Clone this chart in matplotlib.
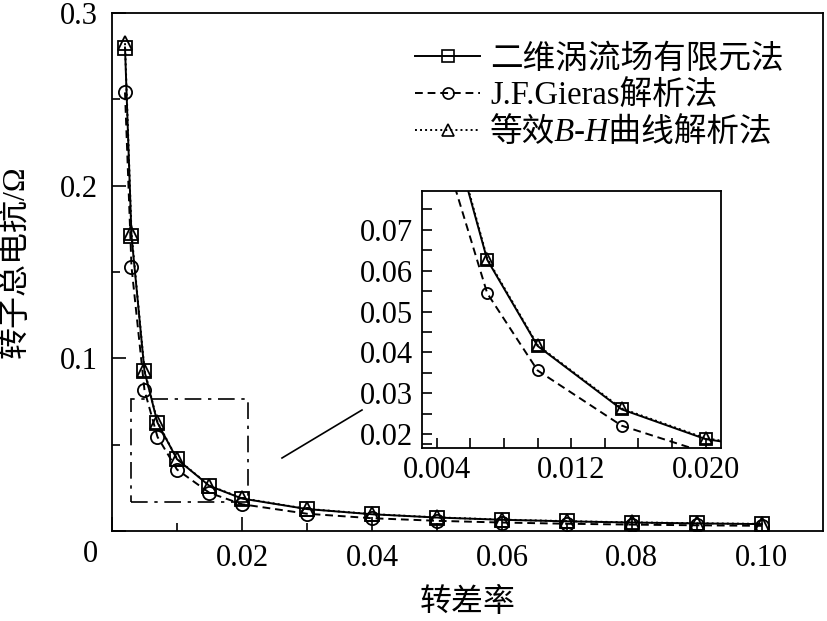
import matplotlib
matplotlib.use("Agg")
import matplotlib.pyplot as plt
from matplotlib.patches import Rectangle
from matplotlib.lines import Line2D

plt.rcParams['font.family'] = ['Liberation Serif', 'Noto Sans CJK SC', 'DejaVu Sans']

# ---- data ----
slip = [0.002, 0.003, 0.005, 0.007, 0.010, 0.015, 0.020, 0.030, 0.040,
        0.050, 0.060, 0.070, 0.080, 0.090, 0.100]
fem = [0.280, 0.171, 0.0925, 0.0627, 0.0416, 0.0261, 0.0188, 0.0127, 0.0097,
       0.0078, 0.0065, 0.0056, 0.0049, 0.0044, 0.0040]
gieras = [0.254, 0.153, 0.0815, 0.0545, 0.0356, 0.0221, 0.0155, 0.0100, 0.0074,
          0.0059, 0.0049, 0.0042, 0.0037, 0.0033, 0.0030]
bh = [0.2825, 0.1725, 0.0932, 0.0630, 0.0418, 0.0263, 0.0190, 0.0128, 0.0098,
      0.0079, 0.0066, 0.0057, 0.0050, 0.0045, 0.0041]

labels = ['二维涡流场有限元法', 'J.F.Gieras解析法', '等效B-H曲线解析法']
xlabel = '转差率'
ylabel = '转子总电抗/Ω'

main_xticks = [0.0, 0.02, 0.04, 0.06, 0.08, 0.10]
main_xticklabels = ['', '0.02', '0.04', '0.06', '0.08', '0.10']
main_yticks = [0.0, 0.1, 0.2, 0.3]
main_yticklabels = ['', '0.1', '0.2', '0.3']
inset_xticks = [0.004, 0.012, 0.020]
inset_xticklabels = ['0.004', '0.012', '0.020']
inset_yticks = [0.02, 0.03, 0.04, 0.05, 0.06, 0.07]
inset_yticklabels = ['0.02', '0.03', '0.04', '0.05', '0.06', '0.07']

inset_xlim = (0.0031, 0.0209)
inset_ylim = (0.0167, 0.0796)
zoom_box = (0.0030, 0.0168, 0.0209, 0.0763)

fig = plt.figure(figsize=(8.27, 6.21), dpi=100)
ax = fig.add_axes([112/827, 1-531/621, 711/827, 518/621])

lw = 1.4
ms = 9.5
styles = [
    dict(ls='-', marker='s'),
    dict(ls=(0, (4, 2.5)), marker='o'),
    dict(ls=(0, (1, 1.6)), marker='^'),
]
series = [fem, gieras, bh]

def draw(a, msize):
    for ys, st in zip(series, styles):
        a.plot(slip, ys, color='black', lw=lw, ls=st['ls'], marker=st['marker'],
               markersize=msize, markerfacecolor='none', markeredgecolor='black',
               markeredgewidth=1.3)

draw(ax, ms)
ax.set_xlim(0, 0.1094)
ax.set_ylim(0, 0.3)
ax.set_xticks(main_xticks)
ax.set_xticklabels(main_xticklabels)
ax.set_xticks([0.01, 0.03, 0.05, 0.07, 0.09], minor=True)
ax.set_yticks(main_yticks)
ax.set_yticklabels(main_yticklabels)
ax.set_yticks([0.05, 0.15, 0.25], minor=True)
ax.tick_params(which='both', direction='in', top=False, right=False, width=1.2,
               labelsize=22)
ax.tick_params(which='major', length=10)
ax.tick_params(which='minor', length=6)
ax.tick_params(axis='x', pad=9)
ax.tick_params(axis='y', pad=10)
for s in ax.spines.values():
    s.set_linewidth(1.3)
ax.set_xlabel(xlabel, fontsize=23, labelpad=11)
ax.set_ylabel(ylabel, fontsize=23, va='center')
ax.yaxis.set_label_coords(-0.136, 0.52)
fig.text(90/827, 1-555/621, '0', fontsize=22, ha='center', va='center')

# zoom box
ax.add_patch(Rectangle((zoom_box[0], zoom_box[1]), zoom_box[2]-zoom_box[0],
                       zoom_box[3]-zoom_box[1], fill=False, lw=1.2,
                       ls=(0, (10, 4, 2, 4)), ec='black', zorder=1))
fig.add_artist(Line2D([282/827, 362/827], [1-458/621, 1-410/621],
                      color='black', lw=1.2, transform=fig.transFigure))

# legend
handles = []
for st, lab in zip(styles, labels):
    handles.append(Line2D([], [], color='black', lw=lw, ls=st['ls'], marker=st['marker'],
                          markersize=8, markerfacecolor='none', markeredgecolor='black',
                          markeredgewidth=1.2))
leg = ax.legend(handles, labels, loc='upper left', bbox_to_anchor=(0.426, 0.94),
                frameon=False, fontsize=23.5, handlelength=2.0, handletextpad=0.3,
                labelspacing=0.18, borderpad=0, borderaxespad=0)
# italic B-H (CJK family has no italic, so only the Latin letters slant)
leg.get_texts()[2].set_fontstyle('italic')

# inset
axi = fig.add_axes([421.7/827, 1-447.7/621, 299/827, 257/621])
axi.set_facecolor('white')
draw(axi, 8)
axi.set_xlim(*inset_xlim)
axi.set_ylim(*inset_ylim)
axi.set_xticks(inset_xticks)
axi.set_xticklabels(inset_xticklabels)
axi.set_xticks([0.006, 0.008, 0.010, 0.014, 0.016, 0.018], minor=True)
axi.set_yticks(inset_yticks)
axi.set_yticklabels(inset_yticklabels)
axi.set_yticks([0.0175, 0.025, 0.035, 0.045, 0.055, 0.065, 0.075], minor=True)
axi.tick_params(which='both', direction='in', top=False, right=False, width=1.2,
                labelsize=22, length=7)
axi.tick_params(axis='x', pad=6)
axi.tick_params(axis='y', pad=6)
for s in axi.spines.values():
    s.set_linewidth(1.3)

fig.savefig('out.png', dpi=100)
